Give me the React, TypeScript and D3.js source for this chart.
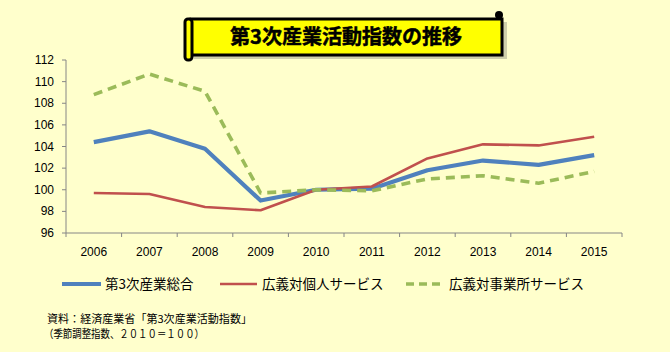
import React from "react";
import * as d3 from "d3";

const years = ["2006","2007","2008","2009","2010","2011","2012","2013","2014","2015"];
const total = [104.4,105.4,103.8,99.0,100.0,100.1,101.8,102.7,102.3,103.2];
const personal = [99.7,99.6,98.4,98.1,100.0,100.3,102.9,104.2,104.1,104.9];
const business = [108.8,110.7,109.1,99.7,100.0,99.9,101.0,101.3,100.6,101.7];
const yTicks = [96,98,100,102,104,106,108,110,112];
const seriesNames = ["第3次産業総合","広義対個人サービス","広義対事業所サービス"];
const title = "第3次産業活動指数の推移";
const notes = ["資料：経済産業省「第3次産業活動指数」","（季節調整指数、２０１０＝１００）"];

const W = 670, H = 352;
const left = 66, right = 622, top = 60, bottom = 233;

export default function App() {
  const x = d3.scaleBand().domain(years).range([left, right]);
  const y = d3.scaleLinear().domain([96, 112]).range([bottom, top]);
  const line = d3.line<number>().x((_, i) => (x(years[i]) as number) + x.bandwidth() / 2).y(d => y(d));
  const series = [
    { name: seriesNames[0], data: total, color: "#4F81BD", width: 4.2, dash: "" },
    { name: seriesNames[1], data: personal, color: "#C0504D", width: 2.6, dash: "" },
    { name: seriesNames[2], data: business, color: "#9BBB59", width: 3.6, dash: "9,6" },
  ];
  const legendPos = [
    { x1: 62, x2: 101, tx: 105 },
    { x1: 220, x2: 257, tx: 262 },
    { x1: 406, x2: 442, tx: 449 },
  ];
  const font = "'Noto Sans CJK JP', sans-serif";
  return (
    <svg width={W} height={H} style={{ position: "absolute", left: 0, top: 0 }} fontFamily={font}>
      <rect x={0} y={0} width={W} height={H} fill="#FFFFCC" />
      {/* banner */}
      <g>
        <rect x={194} y={22} width={313} height={37} fill="#a8a890" opacity={0.55} />
        <rect x={191} y={19} width={311} height={36} fill="#FFFF00" stroke="#000" strokeWidth={3} />
        <rect x={185} y={19} width={7} height={41} rx={3} fill="#FFFF00" stroke="#000" strokeWidth={3} />
        <circle cx={499} cy={15} r={4} fill="#000" />
        <text x={346} y={44} textAnchor="middle" fontSize={20} fontWeight="bold" fill="#000" stroke="#000" strokeWidth={0.5}>{title}</text>
      </g>
      {/* axes */}
      <line x1={left} x2={left} y1={top} y2={bottom} stroke="#868686" />
      <line x1={left} x2={right} y1={bottom} y2={bottom} stroke="#868686" />
      {yTicks.map(t => (
        <g key={t}>
          <line x1={left - 4} x2={left} y1={y(t)} y2={y(t)} stroke="#868686" />
          <text x={left - 12} y={y(t) + 4} textAnchor="end" fontSize={12} fontFamily="'Liberation Sans', sans-serif" fill="#000">{t}</text>
        </g>
      ))}
      {years.map((yr, i) => (
        <g key={yr}>
          <line x1={(x(yr) as number) + x.bandwidth()} x2={(x(yr) as number) + x.bandwidth()} y1={bottom} y2={bottom + 4} stroke="#868686" />
          {i === 0 && <line x1={left} x2={left} y1={bottom} y2={bottom + 4} stroke="#868686" />}
          <text x={(x(yr) as number) + x.bandwidth() / 2} y={bottom + 23} textAnchor="middle" fontSize={12} fontFamily="'Liberation Sans', sans-serif" fill="#000">{yr}</text>
        </g>
      ))}
      {series.map(s => (
        <path key={s.name} d={line(s.data) || ""} fill="none" stroke={s.color} strokeWidth={s.width} strokeDasharray={s.dash} strokeLinejoin="round" />
      ))}
      {/* legend */}
      {series.map((s, i) => (
        <g key={"lg" + i}>
          <line x1={legendPos[i].x1} x2={legendPos[i].x2} y1={284} y2={284} stroke={s.color} strokeWidth={s.width} strokeDasharray={s.dash ? "8,5" : ""} />
          <text x={legendPos[i].tx} y={289} fontSize={13.5} fill="#000">{s.name}</text>
        </g>
      ))}
      <text x={47} y={323} fontSize={11} fill="#000" textLength={205} lengthAdjust="spacingAndGlyphs">{notes[0]}</text>
      <text x={44} y={338} fontSize={11} fill="#000" textLength={160} lengthAdjust="spacingAndGlyphs">{notes[1]}</text>
    </svg>
  );
}
